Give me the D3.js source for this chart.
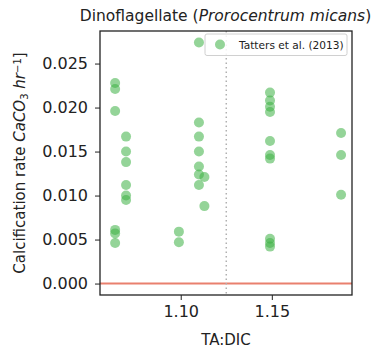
<!DOCTYPE html>
<html>
<head>
<meta charset="utf-8">
<script src="https://cdn.jsdelivr.net/npm/d3@7"></script>
<style>
  html, body { margin: 0; padding: 0; background: #fff; }
  svg text { font-family: "DejaVu Sans", sans-serif; fill: #222; }
</style>
</head>
<body>
<svg id="chart" width="374" height="352"></svg>
<script>
// TA:DIC ratio and calcification rate for each measurement
const taDic = [
  1.064, 1.064, 1.064, 1.064, 1.064, 1.064,
  1.070, 1.070, 1.070, 1.070, 1.070, 1.070,
  1.099, 1.099,
  1.110, 1.110, 1.110, 1.110, 1.110, 1.110, 1.110, 1.113, 1.113,
  1.149, 1.149, 1.149, 1.149, 1.149, 1.149, 1.149, 1.149, 1.149, 1.149,
  1.188, 1.188, 1.188
];
const rate = [
  0.0228, 0.0221, 0.0196, 0.0061, 0.0057, 0.0046,
  0.0167, 0.0150, 0.0138, 0.0112, 0.0100, 0.0095,
  0.0059, 0.0047,
  0.0274, 0.0183, 0.0167, 0.0150, 0.0133, 0.0124, 0.0112, 0.0121, 0.0088,
  0.0217, 0.0208, 0.0201, 0.0195, 0.0162, 0.0146, 0.0142, 0.0051, 0.0046, 0.0042,
  0.0171, 0.0146, 0.0101
];
const xTicks = [1.10, 1.15];
const yTicks = [0.000, 0.005, 0.010, 0.015, 0.020, 0.025];
const threshold = 1.125;
const seriesName = "Tatters et al. (2013)";

const svg = d3.select("#chart");
const m = { left: 100, right: 22, top: 31, bottom: 57 };
const W = 374, H = 352;

const x = d3.scaleLinear().domain([1.0557, 1.194]).range([m.left, W - m.right]);
const y = d3.scaleLinear().domain([-0.0013, 0.0287]).range([H - m.bottom, m.top]);

// zero line
svg.append("line")
  .attr("x1", m.left).attr("x2", W - m.right)
  .attr("y1", y(0)).attr("y2", y(0))
  .attr("stroke", "#e9806e").attr("stroke-width", 2);

// TA:DIC threshold
svg.append("line")
  .attr("x1", x(threshold)).attr("x2", x(threshold))
  .attr("y1", m.top).attr("y2", H - m.bottom)
  .attr("stroke", "#b0b0b0").attr("stroke-width", 1.5)
  .attr("stroke-dasharray", "1.5,3");

// measurements
svg.append("g").selectAll("circle")
  .data(taDic.map((d, i) => [d, rate[i]]))
  .join("circle")
  .attr("cx", d => x(d[0])).attr("cy", d => y(d[1]))
  .attr("r", 5)
  .attr("fill", "#3cb043").attr("fill-opacity", 0.55);

// axes
const xAxis = svg.append("g")
  .attr("transform", `translate(0,${H - m.bottom})`)
  .call(d3.axisBottom(x).tickValues(xTicks).tickFormat(d3.format(".2f")).tickSize(5).tickPadding(6));
const yAxis = svg.append("g")
  .attr("transform", `translate(${m.left},0)`)
  .call(d3.axisLeft(y).tickValues(yTicks).tickFormat(d3.format(".3f")).tickSize(5).tickPadding(7));
[xAxis, yAxis].forEach(g => {
  g.select(".domain").remove();
  g.selectAll("text").style("font-size", "16px").attr("fill", "#222");
  g.selectAll("line").attr("stroke", "#222").attr("stroke-width", 1);
});

// frame
svg.append("rect")
  .attr("x", m.left).attr("y", m.top)
  .attr("width", W - m.right - m.left).attr("height", H - m.bottom - m.top)
  .attr("fill", "none").attr("stroke", "#222").attr("stroke-width", 1.3);

// legend
const lg = svg.append("g");
lg.append("rect")
  .attr("x", 205).attr("y", 34).attr("width", 142).attr("height", 21.5)
  .attr("rx", 2).attr("fill", "#fff").attr("fill-opacity", 0.85)
  .attr("stroke", "#d0d0d0").attr("stroke-width", 1);
lg.append("circle")
  .attr("cx", 220).attr("cy", 44.5).attr("r", 5)
  .attr("fill", "#3cb043").attr("fill-opacity", 0.55);
lg.append("text")
  .attr("x", 239).attr("y", 48.5)
  .style("font-size", "10.6px")
  .text(seriesName);

// title
const title = svg.append("text")
  .attr("x", 225.5).attr("y", 21)
  .attr("text-anchor", "middle")
  .style("font-size", "15.5px");
title.append("tspan").text("Dinoflagellate (");
title.append("tspan").style("font-style", "italic").text("Prorocentrum micans");
title.append("tspan").text(")");

// x label
svg.append("text")
  .attr("x", (m.left + W - m.right) / 2).attr("y", 345)
  .attr("text-anchor", "middle")
  .style("font-size", "15px")
  .text("TA:DIC");

// y label
const yl = svg.append("text")
  .attr("transform", `translate(25,${(m.top + H - m.bottom) / 2}) rotate(-90)`)
  .attr("text-anchor", "middle")
  .style("font-size", "15px");
yl.append("tspan").text("Calcification rate ");
yl.append("tspan").style("font-style", "italic").text("CaCO");
yl.append("tspan").attr("baseline-shift", "-25%").style("font-size", "10px").text("3");
yl.append("tspan").text(" ");
yl.append("tspan").style("font-style", "italic").text("hr");
yl.append("tspan").attr("baseline-shift", "45%").style("font-size", "10px").text("−1");
yl.append("tspan").text("]");
</script>
</body>
</html>
